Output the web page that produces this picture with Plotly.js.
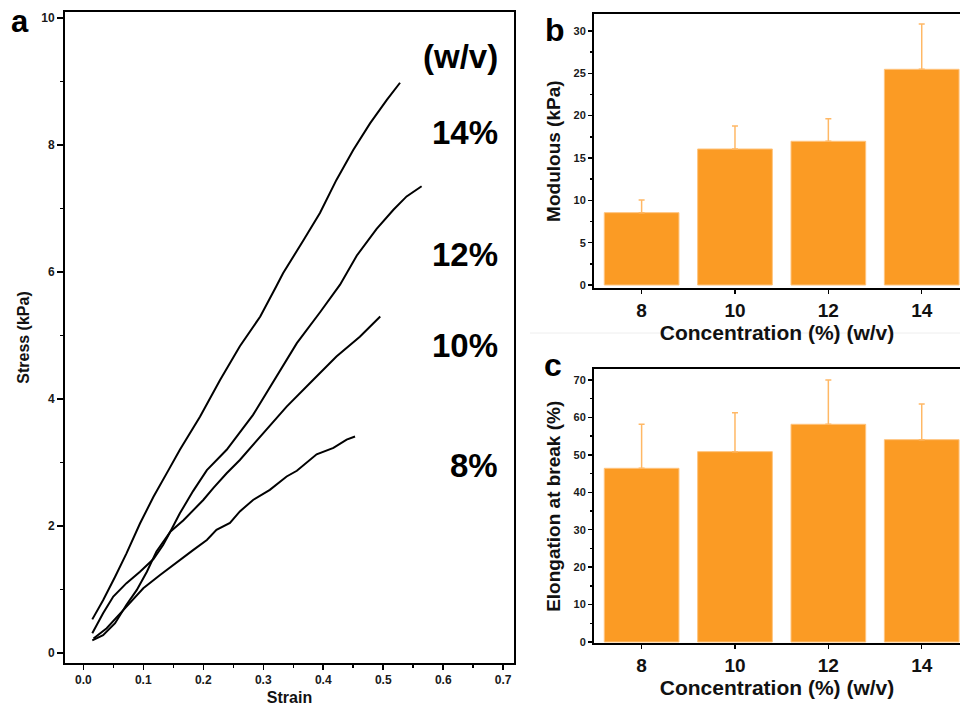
<!DOCTYPE html>
<html>
<head>
<meta charset="utf-8">
<script src="https://cdn.plot.ly/plotly-3.0.1.min.js"></script>
<style>
html,body{margin:0;padding:0;background:#fff;}
#chart{width:960px;height:707px;}
</style>
</head>
<body>
<div id="chart"></div>
<script>
// ---- Panel a: stress-strain curves ----
const strain14 = [0.015,0.033,0.053,0.072,0.0945,0.117,0.142,0.161,0.1945,0.228,0.261,0.295,0.322,0.333,0.367,0.3945,0.422,0.45,0.478,0.506,0.528];
const stress14 = [0.53,0.83,1.20,1.57,2.04,2.46,2.88,3.20,3.72,4.30,4.83,5.30,5.78,5.98,6.50,6.93,7.45,7.92,8.34,8.71,8.98];
const strain12 = [0.015,0.033,0.053,0.072,0.089,0.106,0.122,0.145,0.161,0.183,0.206,0.239,0.283,0.322,0.356,0.395,0.428,0.456,0.489,0.517,0.539,0.564];
const stress12 = [0.20,0.28,0.47,0.76,0.99,1.28,1.60,1.91,2.20,2.55,2.88,3.20,3.75,4.35,4.88,5.37,5.80,6.26,6.68,6.98,7.19,7.35];
const strain10 = [0.015,0.033,0.05,0.072,0.0945,0.117,0.133,0.145,0.167,0.2,0.217,0.239,0.261,0.3,0.339,0.383,0.422,0.461,0.495];
const stress10 = [0.31,0.625,0.89,1.10,1.28,1.48,1.70,1.91,2.09,2.41,2.60,2.83,3.04,3.46,3.88,4.30,4.67,4.98,5.30];
const strain8 = [0.017,0.039,0.072,0.1,0.128,0.15,0.183,0.206,0.222,0.2445,0.261,0.283,0.311,0.339,0.356,0.389,0.417,0.439,0.453];
const stress8 = [0.23,0.39,0.73,1.02,1.23,1.39,1.62,1.78,1.94,2.05,2.23,2.41,2.57,2.78,2.87,3.13,3.23,3.36,3.41];
const curveLabels = ["(w/v)","14%","12%","10%","8%"];
const curveLabelY = [9.40, 8.20, 6.27, 4.85, 2.95];

// ---- Panels b, c: bar charts ----
const concentrations = [8, 10, 12, 14];
const concLabels = ["8","10","12","14"];
const modulus = [8.54, 16.06, 16.97, 25.47];
const modulusErr = [1.5, 2.72, 2.67, 5.36];
const elongation = [46.4, 50.85, 58.16, 54.05];
const elongationErr = [11.8, 10.4, 11.8, 9.5];

const FONT = "Arial, 'Liberation Sans', sans-serif";
const ORANGE = "#FB9B24";
const ERRC = "#FFB865";

const lineStyle = {color:"black", width:2};
const traces = [
  {x:strain14, y:stress14, type:"scatter", mode:"lines", line:lineStyle, xaxis:"x", yaxis:"y", name:"14%"},
  {x:strain12, y:stress12, type:"scatter", mode:"lines", line:lineStyle, xaxis:"x", yaxis:"y", name:"12%"},
  {x:strain10, y:stress10, type:"scatter", mode:"lines", line:lineStyle, xaxis:"x", yaxis:"y", name:"10%"},
  {x:strain8, y:stress8, type:"scatter", mode:"lines", line:lineStyle, xaxis:"x", yaxis:"y", name:"8%"},
  {x:concentrations, y:modulus, type:"bar", width:1.6, xaxis:"x2", yaxis:"y2",
   marker:{color:ORANGE, line:{color:"#FFC47E", width:1}},
   error_y:{type:"data", symmetric:false, array:modulusErr, arrayminus:[0,0,0,0], color:ERRC, thickness:1.5, width:3}},
  {x:concentrations, y:elongation, type:"bar", width:1.6, xaxis:"x3", yaxis:"y3",
   marker:{color:ORANGE, line:{color:"#FFC47E", width:1}},
   error_y:{type:"data", symmetric:false, array:elongationErr, arrayminus:[0,0,0,0], color:ERRC, thickness:1.5, width:3}}
];

const tickFontSmall = {family:FONT, size:12, color:"#1a1a1a"};
const tickFontMid = {family:FONT, size:11, color:"#1a1a1a"};
const commonAxis = {showgrid:false, zeroline:false, showline:true, linecolor:"black", linewidth:2,
  ticks:"outside", tickcolor:"black", tickwidth:1.5, fixedrange:true};

const annotations = [
  {text:"<b>a</b>", x:20/960, y:1-22/707, xref:"paper", yref:"paper", showarrow:false, font:{family:FONT, size:31, color:"black"}, xanchor:"center", yanchor:"middle"},
  {text:"<b>b</b>", x:555/960, y:1-30/707, xref:"paper", yref:"paper", showarrow:false, font:{family:FONT, size:32, color:"black"}, xanchor:"center", yanchor:"middle"},
  {text:"<b>c</b>", x:553/960, y:1-365/707, xref:"paper", yref:"paper", showarrow:false, font:{family:FONT, size:32, color:"black"}, xanchor:"center", yanchor:"middle"}
];
curveLabels.forEach((t,i)=>{
  annotations.push({text:"<b>"+t+"</b>", x:0.694, y:curveLabelY[i], xref:"x", yref:"y", showarrow:false,
    xanchor:"right", yanchor:"middle", font:{family:FONT, size:33, color:"black"}});
});

const layout = {
  width:960, height:707,
  margin:{l:0, r:0, t:0, b:0},
  paper_bgcolor:"white", plot_bgcolor:"white",
  showlegend:false,
  font:{family:FONT},
  xaxis:Object.assign({}, commonAxis, {
    domain:[65/960, 514/960], range:[-0.0305, 0.718], mirror:true,
    tickvals:[0,0.1,0.2,0.3,0.4,0.5,0.6,0.7], ticktext:["<b>0.0</b>","<b>0.1</b>","<b>0.2</b>","<b>0.3</b>","<b>0.4</b>","<b>0.5</b>","<b>0.6</b>","<b>0.7</b>"],
    ticklen:5, tickfont:tickFontSmall,
    minor:{tickvals:[0.05,0.15,0.25,0.35,0.45,0.55,0.65], ticklen:3, tickcolor:"black", ticks:"outside", showgrid:false},
    title:{text:"<b>Strain</b>", font:{family:FONT, size:16, color:"#111"}, standoff:5},
    anchor:"y"}),
  yaxis:Object.assign({}, commonAxis, {
    domain:[1-663/707, 1-12/707], range:[-0.157, 10.094], mirror:true,
    tickvals:[0,2,4,6,8,10], ticktext:["<b>0</b>","<b>2</b>","<b>4</b>","<b>6</b>","<b>8</b>","<b>10</b>"],
    ticklen:6, tickfont:tickFontSmall,
    minor:{tickvals:[1,3,5,7,9], ticklen:3, tickcolor:"black", ticks:"outside", showgrid:false},
    title:{text:"<b>Stress (kPa)</b>", font:{family:FONT, size:16, color:"#111"}, standoff:8},
    anchor:"x"}),
  xaxis2:Object.assign({}, commonAxis, {
    domain:[594/960, 1], range:[6.98, 14.82], mirror:true,
    tickvals:concentrations, ticktext:concLabels.map(s=>"<b>"+s+"</b>"),
    ticklen:4, tickfont:{family:FONT, size:19, color:"#111"},
    title:{text:"<b>Concentration (%) (w/v)</b>", font:{family:FONT, size:21, color:"#111"}, standoff:1},
    anchor:"y2"}),
  yaxis2:Object.assign({}, commonAxis, {
    domain:[1-288.3/707, 1-14/707], range:[-0.39, 32.0], mirror:false,
    tickvals:[0,5,10,15,20,25,30], ticktext:["<b>0</b>","<b>5</b>","<b>10</b>","<b>15</b>","<b>20</b>","<b>25</b>","<b>30</b>"],
    ticklen:4, tickfont:tickFontMid,
    minor:{tickvals:[2.5,7.5,12.5,17.5,22.5,27.5], ticklen:2, tickcolor:"black", ticks:"outside", showgrid:false},
    title:{text:"<b>Modulous (kPa)</b>", font:{family:FONT, size:19, color:"#111"}, standoff:8},
    anchor:"x2"}),
  xaxis3:Object.assign({}, commonAxis, {
    domain:[594/960, 1], range:[6.98, 14.82], mirror:true,
    tickvals:concentrations, ticktext:concLabels.map(s=>"<b>"+s+"</b>"),
    ticklen:4, tickfont:{family:FONT, size:19, color:"#111"},
    title:{text:"<b>Concentration (%) (w/v)</b>", font:{family:FONT, size:21, color:"#111"}, standoff:1},
    anchor:"y3"}),
  yaxis3:Object.assign({}, commonAxis, {
    domain:[1-643.3/707, 1-369.3/707], range:[-0.35, 72.85], mirror:false,
    tickvals:[0,10,20,30,40,50,60,70], ticktext:["<b>0</b>","<b>10</b>","<b>20</b>","<b>30</b>","<b>40</b>","<b>50</b>","<b>60</b>","<b>70</b>"],
    ticklen:4, tickfont:tickFontMid,
    minor:{tickvals:[5,15,25,35,45,55,65], ticklen:2, tickcolor:"black", ticks:"outside", showgrid:false},
    title:{text:"<b>Elongation at break (%)</b>", font:{family:FONT, size:19, color:"#111"}, standoff:8},
    anchor:"x3"}),
  annotations:annotations,
  shapes:[
    {type:"line", xref:"paper", yref:"paper", x0:530/960, x1:1, y0:1-333/707, y1:1-333/707, line:{color:"#eeeeee", width:1}}
  ]
};

Plotly.newPlot("chart", traces, layout, {staticPlot:true, displayModeBar:false});
</script>
</body>
</html>
